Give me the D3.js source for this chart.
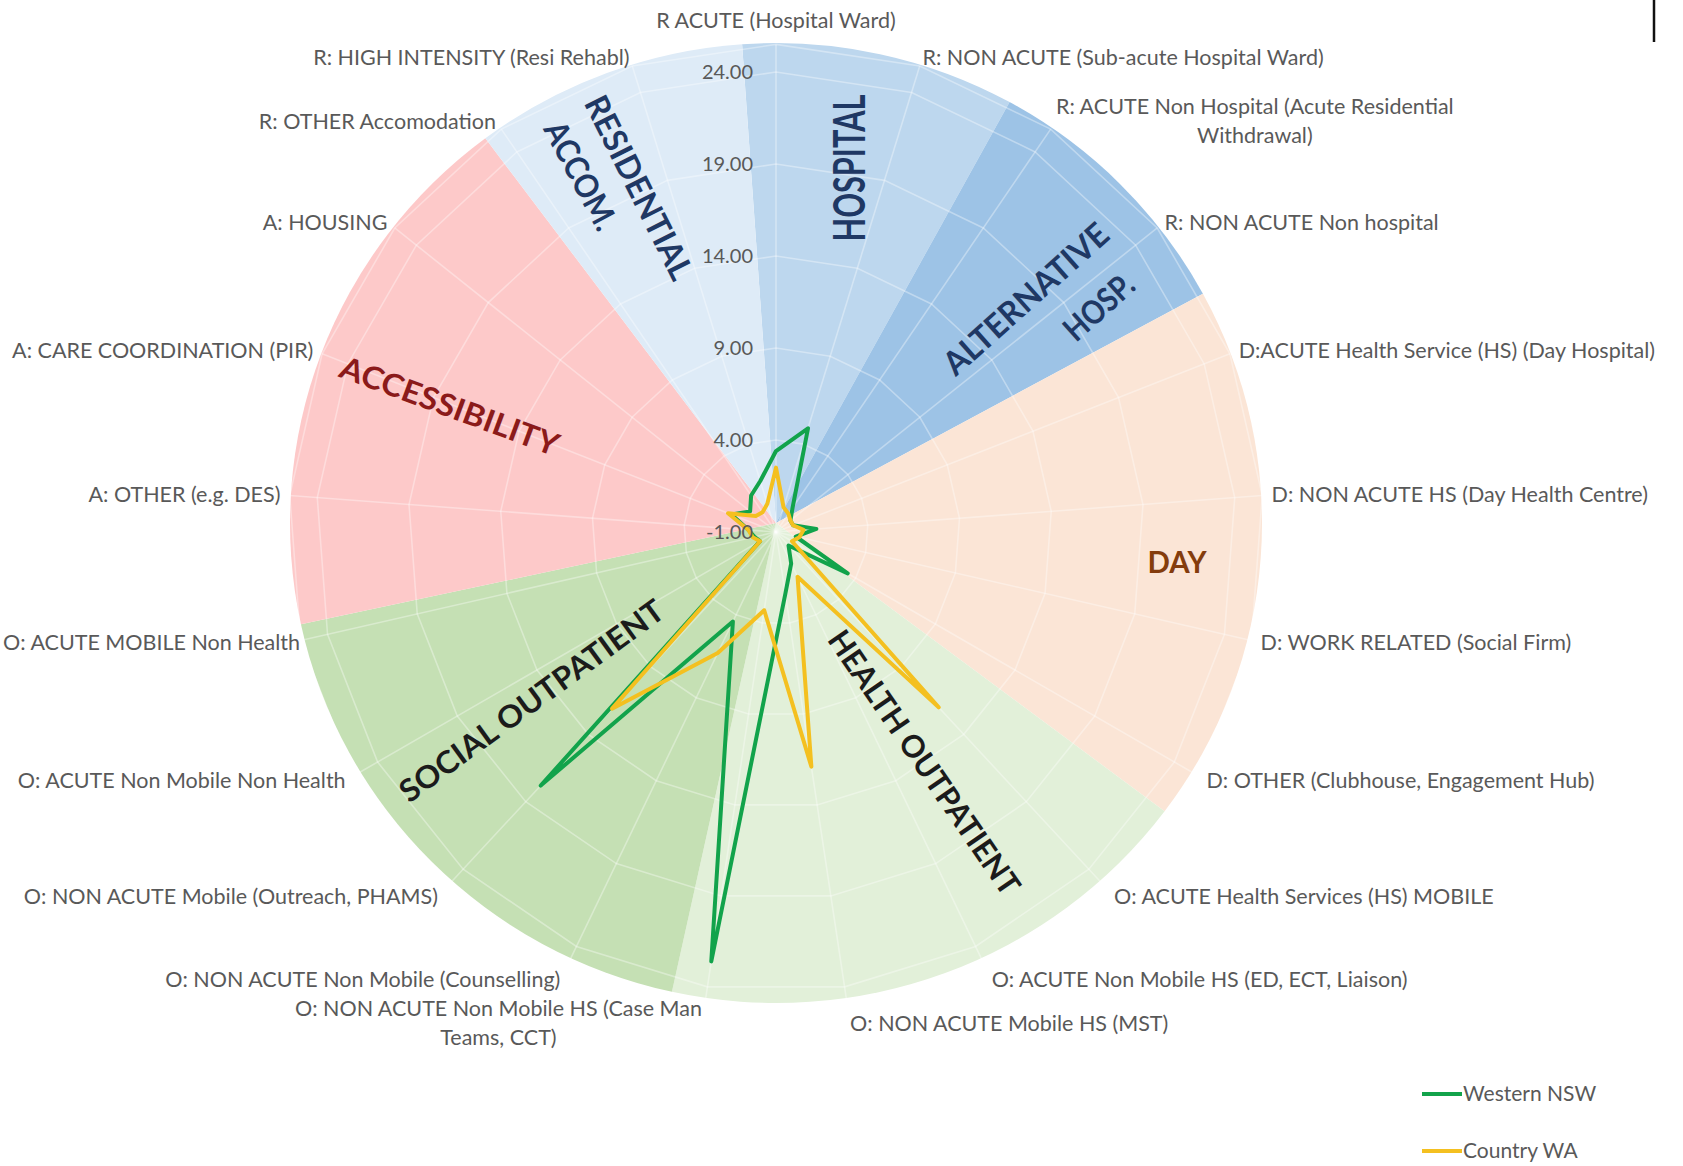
<!DOCTYPE html>
<html>
<head>
<meta charset="utf-8">
<script src="https://cdn.jsdelivr.net/npm/d3@7"></script>
<style>
  body { margin: 0; background: #fff; }
  svg { display: block; font-family: Lato, "Open Sans", sans-serif; }
</style>
</head>
<body>
<svg id="chart" width="1683" height="1166"></svg>
<script>
// categories of the radar, clockwise from the top
const categories = [
  "R ACUTE (Hospital Ward)",
  "R: NON ACUTE (Sub-acute Hospital Ward)",
  "R: ACUTE Non Hospital (Acute Residential\nWithdrawal)",
  "R: NON ACUTE Non hospital",
  "D:ACUTE Health Service (HS) (Day Hospital)",
  "D: NON ACUTE HS (Day Health Centre)",
  "D: WORK RELATED (Social Firm)",
  "D: OTHER (Clubhouse, Engagement Hub)",
  "O: ACUTE Health Services (HS) MOBILE",
  "O: ACUTE Non Mobile HS (ED, ECT, Liaison)",
  "O: NON ACUTE Mobile HS (MST)",
  "O: NON ACUTE Non Mobile HS (Case Man\nTeams, CCT)",
  "O: NON ACUTE Non Mobile (Counselling)",
  "O: NON ACUTE Mobile  (Outreach, PHAMS)",
  "O: ACUTE Non Mobile Non Health",
  "O: ACUTE MOBILE Non Health",
  "A: OTHER (e.g. DES)",
  "A: CARE COORDINATION (PIR)",
  "A: HOUSING",
  "R: OTHER  Accomodation",
  "R: HIGH INTENSITY (Resi Rehabl)"
];

// series values
const westernNSW = [3.4, 4.9, 0.6, 0.0, 0.0, 1.2, 0.1, 3.5, 0.0, 0.9, 2.4,
                    22.6, 4.4, 17.8, 0.0, 0.2, 0.5, 1.6, 0.8, 1.4, 1.9];
const countryWA  = [2.5, 0.4, 0.2, 0.0, 0.0, 0.5, 0.3, 0.0, 12.0, 1.7, 11.9,
                    3.3, 6.3, 12.1, 0.0, 0.3, 0.5, 1.8, 0.4, 0.3, 0.6];

const seriesNames = ["Western NSW", "Country WA"];
const tickValues = [-1, 4, 9, 14, 19, 24];

// background service groups (pie behind the radar)
const groupNames   = ["HOSPITAL", "ALTERNATIVE HOSP.", "DAY", "HEALTH OUTPATIENT",
                      "SOCIAL OUTPATIENT", "ACCESSIBILITY", "RESIDENTIAL ACCOM."];
const groupWeights = [1, 1, 2, 2, 2, 2, 1];

const svg = d3.select("#chart");
const cx = 776, cy = 532;          // radar centre
const rMax = 487.6;                 // outer ring
const n = categories.length;

const r = d3.scaleLinear().domain([-1, 25.5]).range([0, rMax]);
const angle = d3.scaleLinear().domain([0, n]).range([0, 2 * Math.PI]);

const groupColors = d3.scaleOrdinal()
  .domain(groupNames)
  .range(["#bdd7ee", "#9dc3e6", "#fbe5d6", "#e2f0d9", "#c5e0b4", "#fdc9c9", "#deebf7"]);

// ---- background pie
const startA = -4 * Math.PI / 180;
const pie = d3.pie().sort(null).value(d => d.w)
  .startAngle(startA).endAngle(startA + 2 * Math.PI);
const arc = d3.arc().innerRadius(0).outerRadius(480);

svg.append("g")
  .attr("transform", `translate(${cx},523) scale(1.0125,1)`)
  .selectAll("path")
  .data(pie(groupNames.map((g, i) => ({ g, w: groupWeights[i] }))))
  .join("path")
  .attr("d", arc)
  .attr("fill", d => groupColors(d.data.g));

// ---- radar grid
const grid = svg.append("g").attr("transform", `translate(${cx},${cy})`);
const ringLine = d3.lineRadial()
  .angle((d, i) => angle(i))
  .radius(d => r(d))
  .curve(d3.curveLinearClosed);

tickValues.concat([25.5]).filter(v => v > -1).forEach(v => {
  grid.append("path")
    .attr("d", ringLine(d3.range(n).map(() => v)))
    .attr("fill", "none")
    .attr("stroke", "#fff")
    .attr("stroke-opacity", 0.35)
    .attr("stroke-width", 1.6);
});

grid.selectAll("line.spoke")
  .data(d3.range(n))
  .join("line")
  .attr("class", "spoke")
  .attr("x1", 0).attr("y1", 0)
  .attr("x2", i => rMax * Math.sin(angle(i)))
  .attr("y2", i => -rMax * Math.cos(angle(i)))
  .attr("stroke", "#fff")
  .attr("stroke-opacity", 0.35)
  .attr("stroke-width", 1.6);

// ---- group labels (layout of the big coloured titles)
const groupLabelLayout = [
  { text: "HOSPITAL",     x: 848,  y: 168, rot: -90,   size: 44, len: 147, color: "#1f3864" },
  { text: "RESIDENTIAL",  x: 640,  y: 187, rot: 63.4,  size: 33, len: 201, color: "#1f3864" },
  { text: "ACCOM.",       x: 582,  y: 175, rot: 62,    size: 33, len: 118, color: "#1f3864" },
  { text: "ALTERNATIVE",  x: 1025, y: 298, rot: -41.8, size: 33, len: 209, color: "#1f3864" },
  { text: "HOSP.",        x: 1098, y: 306, rot: -41.8, size: 33, len: 82,  color: "#1f3864" },
  { text: "DAY",          x: 1177, y: 561, rot: 0,     size: 31, len: 59,  color: "#843c0c" },
  { text: "ACCESSIBILITY", x: 450, y: 405, rot: 20.3,  size: 31, len: 231, color: "#8b1a1a" },
  { text: "SOCIAL OUTPATIENT", x: 531, y: 700, rot: -36.1, size: 31, len: 319, color: "#1b1b1b" },
  { text: "HEALTH OUTPATIENT", x: 925, y: 762, rot: 55.5,  size: 31, len: 313, color: "#1b1b1b" }
];

svg.append("g").selectAll("text")
  .data(groupLabelLayout)
  .join("text")
  .attr("transform", d => `translate(${d.x},${d.y}) rotate(${d.rot})`)
  .attr("text-anchor", "middle")
  .attr("dominant-baseline", "central")
  .attr("font-weight", 700)
  .attr("font-size", d => d.size)
  .attr("textLength", d => d.len)
  .attr("lengthAdjust", "spacingAndGlyphs")
  .attr("fill", d => d.color)
  .text(d => d.text);

// ---- series lines
const seriesColor = d3.scaleOrdinal().domain(seriesNames).range(["#12a34b", "#f4c020"]);
const series = [westernNSW, countryWA];

const plot = svg.append("g").attr("transform", `translate(${cx},${cy})`);
plot.selectAll("path.series")
  .data(series)
  .join("path")
  .attr("class", "series")
  .attr("d", d => ringLine(d))
  .attr("fill", "none")
  .attr("stroke", (d, i) => seriesColor(seriesNames[i]))
  .attr("stroke-width", 4)
  .attr("stroke-linejoin", "round")
  .attr("stroke-linecap", "round");

// ---- value axis labels
plot.selectAll("text.tick")
  .data(tickValues)
  .join("text")
  .attr("class", "tick")
  .attr("x", -23)
  .attr("y", d => -r(d))
  .attr("dy", "0.35em")
  .attr("text-anchor", "end")
  .attr("font-size", 20)
  .attr("fill", "#595959")
  .text(d => d.toFixed(2));

// ---- category labels
const rLab = 497;
const catG = svg.append("g").attr("font-size", 21.5).attr("fill", "#595959");
categories.forEach((c, i) => {
  const a = angle(i);
  const px = cx + rLab * Math.sin(a);
  const py = cy - rLab * Math.cos(a);
  const lines = c.split("\n");
  const lh = 29;
  const t = catG.append("text").attr("text-anchor", "middle");
  lines.forEach((ln, k) => {
    t.append("tspan")
      .attr("x", 0)
      .attr("y", (k - (lines.length - 1) / 2) * lh)
      .attr("dy", "0.35em")
      .text(ln);
  });
  const w = t.node().getBBox().width;
  let x = px, y = py;
  const s = Math.sin(a);
  if (Math.abs(s) < 0.05) { y = py - 15; }
  else if (s > 0) { x = Math.min(px + w / 2, 1681 - w / 2); }
  else { x = Math.max(px - w / 2, 3 + w / 2); }
  t.attr("transform", `translate(${x},${y})`);
});

// ---- legend
const legend = svg.append("g").attr("transform", "translate(1422,1094)");
seriesNames.forEach((name, i) => {
  const g = legend.append("g").attr("transform", `translate(0,${i * 57})`);
  g.append("line").attr("x1", 0).attr("x2", 40)
    .attr("stroke", seriesColor(name)).attr("stroke-width", 4);
  g.append("text").attr("x", 41).attr("dy", "0.35em")
    .attr("font-size", 21).attr("fill", "#595959").text(name);
});

// thin frame edge in the top right corner
svg.append("line").attr("x1", 1654).attr("x2", 1654).attr("y1", 0).attr("y2", 42)
  .attr("stroke", "#111").attr("stroke-width", 2.5);
</script>
</body>
</html>
